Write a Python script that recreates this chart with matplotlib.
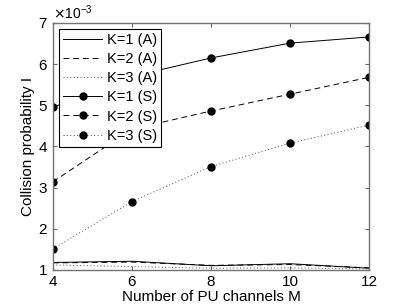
import matplotlib
matplotlib.use('Agg')
import matplotlib.pyplot as plt

plt.rcParams['font.family'] = ['Liberation Sans', 'DejaVu Sans']

M = [4, 6, 8, 10, 12]

# analytic
k1_a = [1.18e-3, 1.21e-3, 1.10e-3, 1.15e-3, 1.04e-3]
k2_a = [1.17e-3, 1.19e-3, 1.11e-3, 1.13e-3, 1.05e-3]
k3_a = [1.12e-3, 1.08e-3, 1.04e-3, 1.05e-3, 1.02e-3]
# simulation
k1_s = [4.95e-3, 5.70e-3, 6.15e-3, 6.51e-3, 6.66e-3]
k2_s = [3.14e-3, 4.42e-3, 4.86e-3, 5.27e-3, 5.68e-3]
k3_s = [1.51e-3, 2.66e-3, 3.51e-3, 4.08e-3, 4.52e-3]

fig = plt.figure(figsize=(4.07, 3.06), dpi=100)
ax = fig.add_axes([0.130, 0.118, 0.777, 0.807])

lw = 0.7
ax.plot(M, k1_a, color='k', linestyle='-', lw=lw, label='K=1 (A)')
ax.plot(M, k2_a, color='k', linestyle=(0, (6, 4)), lw=lw, label='K=2 (A)')
ax.plot(M, k3_a, color='0.3', linestyle=(0, (1, 2.5)), lw=lw, label='K=3 (A)')
ax.plot(M, k1_s, color='k', linestyle='-', lw=lw, marker='o', ms=5, label='K=1 (S)')
ax.plot(M, k2_s, color='k', linestyle=(0, (6, 4)), lw=lw, marker='o', ms=5, label='K=2 (S)')
ax.plot(M, k3_s, color='0.3', linestyle=(0, (1, 2.5)), lw=lw, marker='o', ms=5,
        mfc='k', mec='k', label='K=3 (S)')

ax.set_xlim(4, 12)
ax.set_ylim(1e-3, 7e-3)
ax.set_xticks(M)
ax.set_yticks([1e-3, 2e-3, 3e-3, 4e-3, 5e-3, 6e-3, 7e-3])
ax.ticklabel_format(axis='y', style='sci', scilimits=(-3, -3), useMathText=True)
ax.tick_params(direction='in', top=True, right=True, labelsize=11, length=3,
               color='0.4')
for s in ax.spines.values():
    s.set_color('0.45')
    s.set_linewidth(1.0)

ax.set_xlabel('Number of PU channels M', fontsize=11, labelpad=1)
ax.set_ylabel('Collision probability I', fontsize=11, labelpad=2)
ax.yaxis.get_offset_text().set_fontsize(10)

leg = ax.legend(loc='upper left', fontsize=10.5, frameon=True, fancybox=False,
                edgecolor='k', framealpha=1, handlelength=2.7, handletextpad=0.3,
                borderaxespad=0.4, labelspacing=0.35, borderpad=0.3)
leg.get_frame().set_linewidth(0.8)

fig.savefig('out.png', dpi=100)
